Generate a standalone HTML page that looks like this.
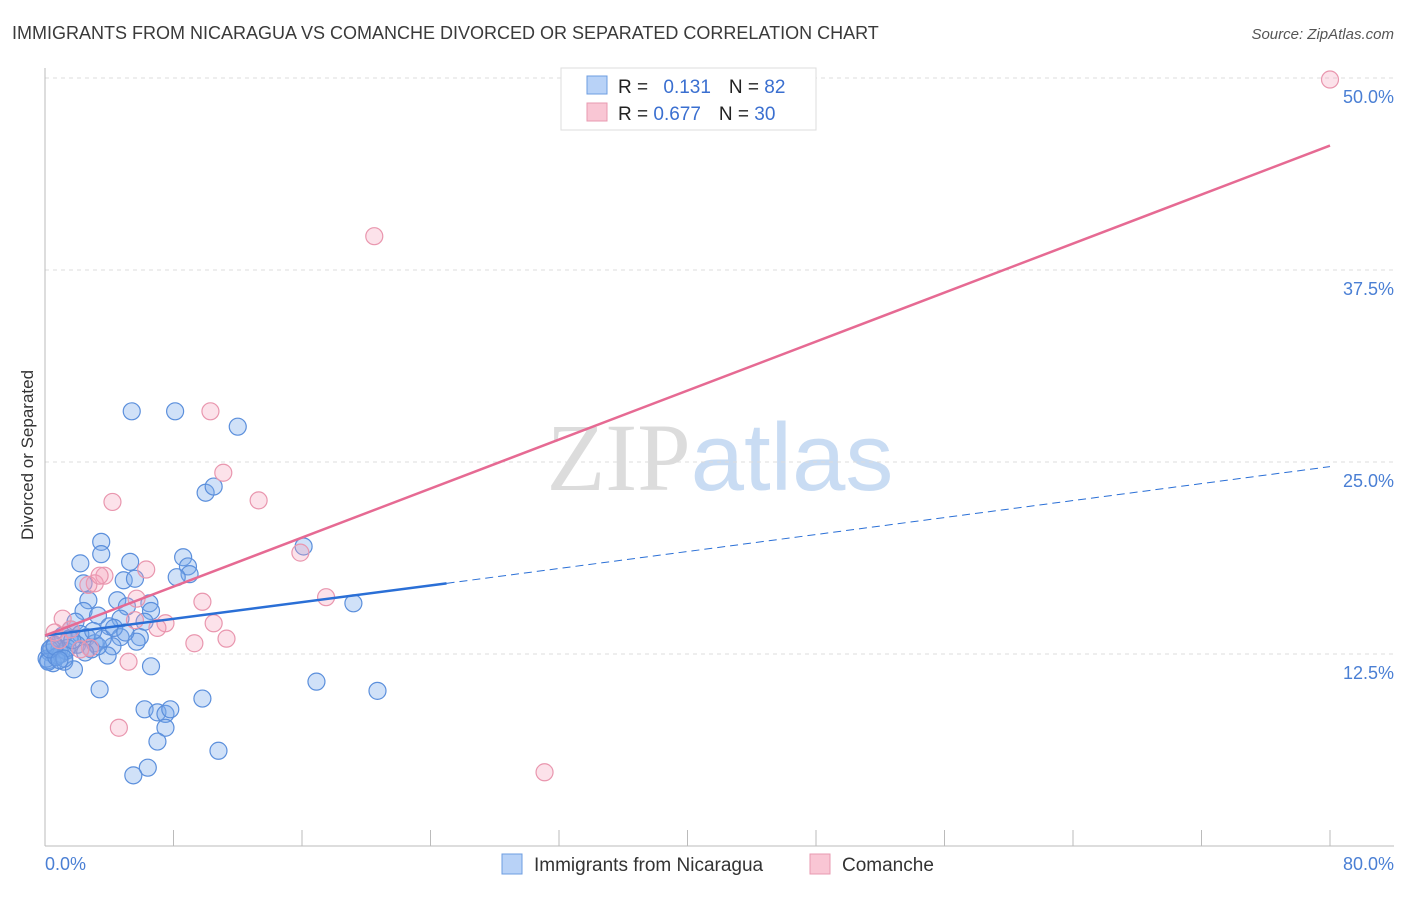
<!DOCTYPE html>
<html><head><meta charset="utf-8"><style>
body{margin:0;background:#fff;font-family:"Liberation Sans",sans-serif}
</style></head><body>
<svg width="1406" height="892" xmlns="http://www.w3.org/2000/svg" font-family="Liberation Sans, sans-serif">
<text x="12" y="39" font-size="18" fill="#3a3a3a">IMMIGRANTS FROM NICARAGUA VS COMANCHE DIVORCED OR SEPARATED CORRELATION CHART</text>
<text x="1394" y="39" font-size="15" fill="#555" text-anchor="end" font-style="italic">Source: ZipAtlas.com</text>
<text x="720" y="490" font-size="96" text-anchor="middle"><tspan fill="#dcdcdc" font-family="Liberation Serif, serif">ZIP</tspan><tspan fill="#c9dcf3">atlas</tspan></text>
<g id="grid"></g><g id="axes"></g><g id="pts"></g><g id="lines"></g>
<text transform="translate(33,455) rotate(-90)" font-size="17" fill="#333" text-anchor="middle">Divorced or Separated</text>
<text x="45" y="870" font-size="18" fill="#4a7fd4">0.0%</text>
<text x="1394" y="870" font-size="18" fill="#4a7fd4" text-anchor="end">80.0%</text>
<g>
<rect x="561" y="68" width="255" height="62" fill="#fff" stroke="#ddd"/>
<rect x="587" y="76" width="20" height="18" fill="#b8d2f7" stroke="#6d9de0"/>
<rect x="587" y="103" width="20" height="18" fill="#f9c6d4" stroke="#e89ab0"/>
<text x="618" y="93" font-size="19" fill="#222">R = <tspan fill="#3a6fd0" dx="10">0.131</tspan><tspan dx="18">N = </tspan><tspan fill="#3a6fd0">82</tspan></text>
<text x="618" y="120" font-size="19" fill="#222">R = <tspan fill="#3a6fd0">0.677</tspan><tspan dx="18">N = </tspan><tspan fill="#3a6fd0">30</tspan></text>
</g>
<g>
<rect x="502" y="854" width="20" height="20" fill="#b8d2f7" stroke="#6d9de0"/>
<text x="534" y="871" font-size="19" fill="#333">Immigrants from Nicaragua</text>
<rect x="810" y="854" width="20" height="20" fill="#f9c6d4" stroke="#e89ab0"/>
<text x="842" y="871" font-size="19" fill="#333">Comanche</text>
</g>
</svg>
<script>
const yTicks=[12.5,25,37.5,50];
const yTickLabels=["12.5%","25.0%","37.5%","50.0%"];
const xTicks=[0,8,16,24,32,40,48,56,64,72,80];
const blueX=[5.4,8.1,12.0,10.0,10.5,16.1,19.2,16.9,20.7,3.5,3.5,5.3,2.2,2.4,4.9,5.6,8.6,8.9,9.0,8.2,2.7,4.5,5.1,6.5,6.6,2.4,3.3,4.7,6.2,1.9,4.0,1.6,1.1,2.6,4.7,5.9,5.7,3.1,4.2,0.6,0.9,0.3,0.2,0.5,1.2,1.8,2.9,3.9,3.3,6.6,3.4,9.8,6.2,7.0,7.5,7.8,7.5,7.0,10.8,6.4,5.5,1.5,2.2,3.6,0.8,0.1,0.4,1.0,1.3,2.0,0.2,0.7,1.4,2.5,3.0,0.3,0.6,1.7,4.3,5.0,1.2,0.9];
const blueY=[28.3,28.3,27.3,23.0,23.4,19.5,15.8,10.7,10.1,19.8,19.0,18.5,18.4,17.1,17.3,17.4,18.8,18.2,17.7,17.5,16.0,16.0,15.6,15.8,15.3,15.3,15.0,14.8,14.6,14.6,14.3,14.1,13.7,13.6,13.6,13.6,13.3,13.2,13.0,13.1,12.8,12.6,12.1,11.9,12.0,11.5,12.8,12.4,13.0,11.7,10.2,9.6,8.9,8.7,8.6,8.9,7.7,6.8,6.2,5.1,4.6,13.5,13.8,13.5,12.4,12.2,12.9,12.5,12.7,13.1,12.0,12.3,12.9,12.6,14.0,12.8,13.0,13.4,14.2,13.9,12.2,12.1];
const pinkX=[80,20.5,10.3,11.1,13.3,4.2,15.9,6.3,3.7,3.1,2.7,17.5,9.8,5.7,1.1,10.5,7.5,7.0,0.6,1.6,11.3,9.3,2.8,5.2,4.6,31.1,3.4,2.2,5.6,0.9];
const pinkY=[49.9,39.7,28.3,24.3,22.5,22.4,19.1,18.0,17.6,17.1,17.0,16.2,15.9,16.1,14.8,14.5,14.5,14.2,13.9,14.1,13.5,13.2,12.9,12.0,7.7,4.8,17.6,12.8,14.7,13.4];
const blueTrend=[[0,13.7],[25,17.1],[80,24.7]];
const pinkTrend=[[0,13.7],[80,45.6]];
const NS="http://www.w3.org/2000/svg";
const X=v=>45+v/80*1285, Y=v=>846-v/12.5*192;
function mk(t,a,p){const e=document.createElementNS(NS,t);for(const k in a)e.setAttribute(k,a[k]);document.getElementById(p).appendChild(e);return e;}
yTicks.forEach((t,i)=>{
 const g=mk('line',{x1:45,x2:1394,y1:Y(t),y2:Y(t),stroke:'#ddd','stroke-dasharray':'4,4'},'grid');
 
 
 const l=mk('text',{x:1394,y:Y(t)+25,'font-size':18,fill:'#4a7fd4','text-anchor':'end'},'axes');
 l.textContent=yTickLabels[i];
 
 
});
const ax=mk('line',{x1:45,x2:1394,y1:846,y2:846,stroke:'#bbb'},'axes');


const ay=mk('line',{x1:45,x2:45,y1:68,y2:846,stroke:'#bbb'},'axes');


xTicks.forEach(t=>{const e=mk('line',{x1:X(t),x2:X(t),y1:830,y2:846,stroke:'#bbb'},'axes');
 
 });
blueX.forEach((x,i)=>{const c=mk('circle',{cx:X(x),cy:Y(blueY[i]),r:8.5,fill:'rgba(120,170,235,0.35)',stroke:'#5b8fdc','stroke-width':1.2},'pts');
 
 });
pinkX.forEach((x,i)=>{const c=mk('circle',{cx:X(x),cy:Y(pinkY[i]),r:8.5,fill:'rgba(245,160,185,0.3)',stroke:'#e996ae','stroke-width':1.2},'pts');
 
 });
let b1=mk('line',{x1:X(blueTrend[0][0]),y1:Y(blueTrend[0][1]),x2:X(blueTrend[1][0]),y2:Y(blueTrend[1][1]),stroke:'#2a6fd6','stroke-width':2.5},'lines');


let b2=mk('line',{x1:X(blueTrend[1][0]),y1:Y(blueTrend[1][1]),x2:X(blueTrend[2][0]),y2:Y(blueTrend[2][1]),stroke:'#2a6fd6','stroke-width':1,'stroke-dasharray':'8,5'},'lines');


let p1=mk('line',{x1:X(pinkTrend[0][0]),y1:Y(pinkTrend[0][1]),x2:X(pinkTrend[1][0]),y2:Y(pinkTrend[1][1]),stroke:'#e66a93','stroke-width':2.5},'lines');


</script>
</body></html>
